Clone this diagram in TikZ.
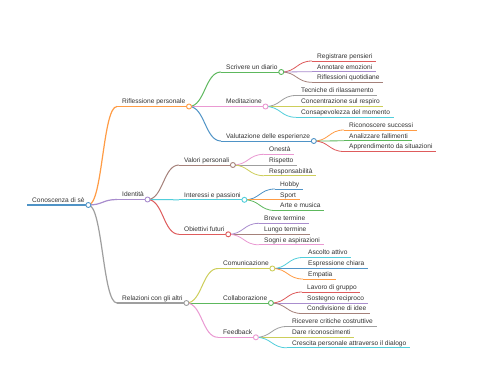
\documentclass[tikz,border=0pt]{standalone}
\usepackage{fontspec}
\setmainfont{Liberation Sans}
\usetikzlibrary{calc}
\definecolor{cBlue}{HTML}{4F93C6}
\definecolor{cOrange}{HTML}{FF9C45}
\definecolor{cGreen}{HTML}{5DB85D}
\definecolor{cRed}{HTML}{DE5B5C}
\definecolor{cPurple}{HTML}{A98DCE}
\definecolor{cBrown}{HTML}{A5817A}
\definecolor{cPink}{HTML}{EA99D2}
\definecolor{cGray}{HTML}{9F9F9F}
\definecolor{cOlive}{HTML}{CDCE5A}
\definecolor{cCyan}{HTML}{51CEDB}
\definecolor{txt}{HTML}{333333}
\tikzset{
  lbl/.style={font=\fontsize{6.6}{8}\selectfont, text=txt, inner sep=0pt, anchor=base west},
  dot/.style={circle, fill=white, line width=0.9pt, minimum size=5pt, inner sep=0pt},
}
% link from parent end to child start (d3 horizontal link)
\newcommand\mmlink[3]{%
  \draw[#3] let \p1=(#1), \p2=(#2) in (\p1) .. controls ({(\x1+\x2)/2},\y1) and ({(\x1+\x2)/2},\y2) .. (\p2);}
% #1 name, #2 parent end, #3 xs, #4 y, #5 text, #6 color, #7 line width
\newcommand\mmnode[7]{%
  \coordinate (#1s) at (#3,#4);
  \node[lbl] (#1) at (#3+5,#4-2.7) {#5};
  \path (#1.east |- #1s) ++(3.5,0) coordinate (#1e);
  \draw[#6, line width=#7] (#1s) -- (#1e);
  \mmlink{#2}{#1s}{#6, line width=#7}}
\begin{document}
\begin{tikzpicture}[x=1pt, y=-1pt]
\useasboundingbox[fill=white] (0,0) rectangle (480,384);
% root
\coordinate (rs) at (27,205);
\node[lbl] (r) at (32,202.3) {Conoscenza di sè};
\path (r.east |- rs) ++(3.5,0) coordinate (re);
\draw[cBlue, line width=1.6pt] (rs) -- (re);
% level 1
\mmnode{a}{re}{117}{106.5}{Riflessione personale}{cOrange}{1.2pt}
\mmnode{b}{re}{117}{199.5}{Identità}{cPurple}{1.2pt}
\mmnode{c}{re}{117}{303}{Relazioni con gli altri}{cGray}{1.2pt}
% level 2
\mmnode{aa}{ae}{221}{72}{Scrivere un diario}{cGreen}{1pt}
\mmnode{ab}{ae}{221}{106.5}{Meditazione}{cPink}{1pt}
\mmnode{ac}{ae}{221}{141}{Valutazione delle esperienze}{cBlue}{1pt}
\mmnode{ba}{be}{179}{165}{Valori personali}{cBrown}{1pt}
\mmnode{bb}{be}{179}{199.8}{Interessi e passioni}{cCyan}{1pt}
\mmnode{bc}{be}{179}{234.3}{Obiettivi futuri}{cRed}{1pt}
\mmnode{ca}{ce}{218}{268.5}{Comunicazione}{cOlive}{1pt}
\mmnode{cb}{ce}{218}{303}{Collaborazione}{cGreen}{1pt}
\mmnode{cc}{ce}{218}{337.3}{Feedback}{cPink}{1pt}
% level 3
\mmnode{aaa}{aae}{312}{61}{Registrare pensieri}{cRed}{0.8pt}
\mmnode{aab}{aae}{312}{71.7}{Annotare emozioni}{cPurple}{0.8pt}
\mmnode{aac}{aae}{312}{82.3}{Riflessioni quotidiane}{cBrown}{0.8pt}
\mmnode{aba}{abe}{296}{95.5}{Tecniche di rilassamento}{cGray}{0.8pt}
\mmnode{abb}{abe}{296}{106.5}{Concentrazione sul respiro}{cOlive}{0.8pt}
\mmnode{abc}{abe}{296}{117.3}{Consapevolezza del momento}{cCyan}{0.8pt}
\mmnode{aca}{ace}{344}{130}{Riconoscere successi}{cOrange}{0.8pt}
\mmnode{acb}{ace}{344}{140.8}{Analizzare fallimenti}{cGreen}{0.8pt}
\mmnode{acc}{ace}{344}{151.5}{Apprendimento da situazioni}{cRed}{0.8pt}
\mmnode{baa}{bae}{264}{154.3}{Onestà}{cPink}{0.8pt}
\mmnode{bab}{bae}{264}{165}{Rispetto}{cGray}{0.8pt}
\mmnode{bac}{bae}{264}{175.7}{Responsabilità}{cOlive}{0.8pt}
\mmnode{bba}{bbe}{275}{189}{Hobby}{cBlue}{0.8pt}
\mmnode{bbb}{bbe}{275}{199.8}{Sport}{cOrange}{0.8pt}
\mmnode{bbc}{bbe}{275}{210.5}{Arte e musica}{cGreen}{0.8pt}
\mmnode{bca}{bce}{259}{223.3}{Breve termine}{cPurple}{0.8pt}
\mmnode{bcb}{bce}{259}{234.3}{Lungo termine}{cBrown}{0.8pt}
\mmnode{bcc}{bce}{259}{244.8}{Sogni e aspirazioni}{cPink}{0.8pt}
\mmnode{caa}{cae}{303}{257.5}{Ascolto attivo}{cCyan}{0.8pt}
\mmnode{cab}{cae}{303}{268.5}{Espressione chiara}{cBlue}{0.8pt}
\mmnode{cac}{cae}{303}{279}{Empatia}{cOrange}{0.8pt}
\mmnode{cba}{cbe}{302}{292}{Lavoro di gruppo}{cRed}{0.8pt}
\mmnode{cbb}{cbe}{302}{303}{Sostegno reciproco}{cPurple}{0.8pt}
\mmnode{cbc}{cbe}{302}{313.5}{Condivisione di idee}{cBrown}{0.8pt}
\mmnode{cca}{cce}{287}{326.5}{Ricevere critiche costruttive}{cGray}{0.8pt}
\mmnode{ccb}{cce}{287}{337.3}{Dare riconoscimenti}{cOlive}{0.8pt}
\mmnode{ccc}{cce}{287}{347.8}{Crescita personale attraverso il dialogo}{cCyan}{0.8pt}
% circles
\node[dot, draw=cBlue] (rc) at (re) {};
\node[dot, draw=cOrange] (ac) at (ae) {};
\node[dot, draw=cPurple] (bc) at (be) {};
\node[dot, draw=cGray] (cc) at (ce) {};
\node[dot, draw=cGreen] (aac) at (aae) {};
\node[dot, draw=cPink] (abc) at (abe) {};
\node[dot, draw=cBlue] (acc) at (ace) {};
\node[dot, draw=cBrown] (bac) at (bae) {};
\node[dot, draw=cCyan] (bbc) at (bbe) {};
\node[dot, draw=cRed] (bcc) at (bce) {};
\node[dot, draw=cOlive] (cac) at (cae) {};
\node[dot, draw=cGreen] (cbc) at (cbe) {};
\node[dot, draw=cPink] (ccc) at (cce) {};
\end{tikzpicture}
\end{document}
